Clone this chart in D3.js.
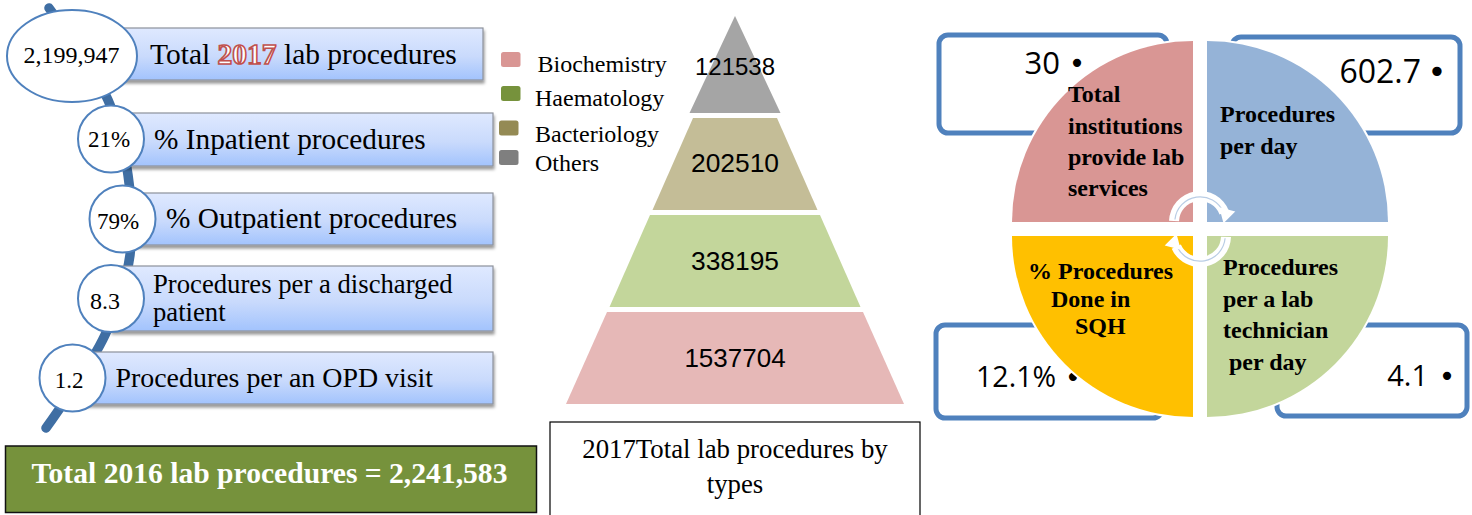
<!DOCTYPE html>
<html>
<head>
<meta charset="utf-8">
<script src="https://cdn.jsdelivr.net/npm/d3@7"></script>
<style>
body { margin: 0; background: #fff; }
svg { display: block; }
.serif { font-family: "Liberation Serif", serif; fill: #000; }
.sans { font-family: "Open Sans", sans-serif; fill: #000; }
</style>
</head>
<body>
<svg id="chart" width="1472" height="515"></svg>
<script>
// left list
var rowValues = ["2,199,947", "21%", "79%", "8.3", "1.2"];
var rowLabels = [
	["Total ", "2017", " lab procedures"],
	["% Inpatient procedures"],
	["% Outpatient procedures"],
	["Procedures per a discharged", "patient"],
	["Procedures per an OPD visit"]
];
var total2016 = "Total 2016 lab procedures = 2,241,583";

// pyramid, top to bottom
var pyramidTypes = ["Others", "Bacteriology", "Haematology", "Biochemistry"];
var pyramidValues = [121538, 202510, 338195, 1537704];
var legendTypes = ["Biochemistry", "Haematology", "Bacteriology", "Others"];
var pyramidTitle = ["2017Total lab procedures by", "types"];

// quarter circle, clockwise from top right
var pieValues = ["602.7", "4.1", "12.1%", "30"];
var pieLabels = [
	["Procedures", "per day"],
	["Procedures", "per a lab", "technician", " per day"],
	["% Procedures", "Done in", "SQH"],
	["Total", "institutions", "provide lab", "services"]
];

var svg = d3.select("#chart");
var defs = svg.append("defs");

var grad = defs.append("linearGradient").attr("id", "barFill").attr("x1", 0).attr("y1", 0).attr("x2", 0).attr("y2", 1);
grad.append("stop").attr("offset", "0%").attr("stop-color", "#dfe9ff");
grad.append("stop").attr("offset", "55%").attr("stop-color", "#c9dafc");
grad.append("stop").attr("offset", "100%").attr("stop-color", "#a2c3fd");

var shadow = defs.append("filter").attr("id", "barShadow").attr("x", "-5%").attr("y", "-20%").attr("width", "110%").attr("height", "150%");
shadow.append("feDropShadow").attr("dx", 1).attr("dy", 3).attr("stdDeviation", 1.5).attr("flood-color", "#000").attr("flood-opacity", 0.4);

drawList();
drawPyramid();
drawQuarters();

function drawList(){
	var g = svg.append("g");
	var idx = d3.range(rowValues.length);

	var barTop = d3.scaleOrdinal().domain(idx).range([28, 113, 193, 266, 352]);
	var barBottom = d3.scaleOrdinal().domain(idx).range([80, 166, 245, 331, 404]);
	var barRight = d3.scaleOrdinal().domain(idx).range([483, 493, 493, 493, 493]);
	var cx = d3.scaleOrdinal().domain(idx).range([72, 111, 122.5, 111, 72.5]);
	var cy = d3.scaleOrdinal().domain(idx).range([56, 139, 219, 298.5, 378]);
	var rx = d3.scaleOrdinal().domain(idx).range([65, 33, 33, 33, 33]);
	var ry = d3.scaleOrdinal().domain(idx).range([46, 33.5, 33.5, 33.5, 33.5]);
	var valueX = d3.scaleOrdinal().domain(idx).range([71.5, 109, 118, 105, 69]);
	var valueY = d3.scaleOrdinal().domain(idx).range([63, 147, 229, 309, 388]);
	var valueSize = d3.scaleOrdinal().domain(idx).range([24, 23, 23, 24, 23]);
	var labelX = d3.scaleOrdinal().domain(idx).range([150, 154, 166, 153, 115.5]);
	var labelY = d3.scaleOrdinal().domain(idx).range([64, 149, 228, 293, 387]);
	var labelSize = d3.scaleOrdinal().domain(idx).range([29.5, 29.3, 29.3, 26.7, 27.9]);

	// spine behind the circles
	var spine = d3.line().x(function(d){ return d[0]; }).y(function(d){ return d[1]; }).curve(d3.curveCatmullRom);
	g.append("path")
		.attr("d", spine([[49, 8], [108, 100], [128, 175], [130, 255], [105, 335], [46, 428]]))
		.attr("fill", "none").attr("stroke", "#3f6ea3").attr("stroke-width", 9.5).attr("stroke-linecap", "round");

	idx.forEach(function(i){
		g.append("rect")
			.attr("x", cx(i)).attr("y", barTop(i))
			.attr("width", barRight(i) - cx(i)).attr("height", barBottom(i) - barTop(i))
			.attr("fill", "url(#barFill)").attr("stroke", "#8d929c").attr("stroke-width", 1.2)
			.attr("filter", "url(#barShadow)");

		var text = g.append("text").attr("class", "serif").attr("x", labelX(i)).attr("y", labelY(i)).attr("font-size", labelSize(i));
		if(i == 0){
			text.append("tspan").attr("xml:space", "preserve").text(rowLabels[i][0]);
			text.append("tspan").attr("font-weight", "bold").attr("fill", "#fff").attr("stroke", "#c0504d").attr("stroke-width", 1.6).text(rowLabels[i][1]);
			text.append("tspan").text(rowLabels[i][2]);
		}else{
			rowLabels[i].forEach(function(line, k){
				text.append("tspan").attr("x", labelX(i)).attr("dy", k ? 28 : 0).text(line);
			});
		}
	});

	idx.forEach(function(i){
		g.append("ellipse")
			.attr("cx", cx(i)).attr("cy", cy(i)).attr("rx", rx(i)).attr("ry", ry(i))
			.attr("fill", "#fff").attr("stroke", "#4f81bd").attr("stroke-width", 2);
		g.append("text").attr("class", "serif")
			.attr("x", valueX(i)).attr("y", valueY(i))
			.attr("text-anchor", "middle").attr("font-size", valueSize(i))
			.text(rowValues[i]);
	});

	g.append("rect").attr("x", 5.5).attr("y", 446).attr("width", 531).attr("height", 66.5)
		.attr("fill", "#76923c").attr("stroke", "#111").attr("stroke-width", 1.5);
	g.append("text").attr("class", "serif").attr("x", 269.5).attr("y", 483)
		.attr("text-anchor", "middle").attr("font-size", 29.6).attr("font-weight", "bold")
		.style("fill", "#fff").text(total2016);
}

function drawPyramid(){
	var g = svg.append("g");
	var midX = 735;

	var top = d3.scaleOrdinal().domain(pyramidTypes).range([16, 118, 215, 312]);
	var bottom = d3.scaleOrdinal().domain(pyramidTypes).range([113, 210, 307, 404]);
	var topHalf = d3.scaleOrdinal().domain(pyramidTypes).range([0, 42, 85, 128]);
	var bottomHalf = d3.scaleOrdinal().domain(pyramidTypes).range([45.5, 82.5, 125.5, 169]);
	var fill = d3.scaleOrdinal().domain(pyramidTypes).range(["#a5a5a5", "#c4bd97", "#c3d69b", "#e6b8b7"]);
	var labelY = d3.scaleOrdinal().domain(pyramidTypes).range([75, 172, 270, 367]);
	var labelSize = d3.scaleOrdinal().domain(pyramidTypes).range([24, 26.4, 26.4, 26]);

	pyramidTypes.forEach(function(t, i){
		var poly = [
			[midX - topHalf(t), top(t)], [midX + topHalf(t), top(t)],
			[midX + bottomHalf(t), bottom(t)], [midX - bottomHalf(t), bottom(t)]
		];
		g.append("path").attr("d", d3.line()(poly) + "Z").attr("fill", fill(t));
		g.append("text").attr("class", "lab").attr("x", midX).attr("y", labelY(t))
			.attr("text-anchor", "middle").attr("font-size", labelSize(t))
			.attr("font-family", "Liberation Sans, sans-serif")
			.text(pyramidValues[i]);
	});

	// legend
	var swatchX = d3.scaleOrdinal().domain(legendTypes).range([501, 501, 499, 499]);
	var swatchY = d3.scaleOrdinal().domain(legendTypes).range([52, 86, 120.5, 150]);
	var textX = d3.scaleOrdinal().domain(legendTypes).range([537.5, 535, 535, 535]);
	var textY = d3.scaleOrdinal().domain(legendTypes).range([72, 106, 142, 171]);
	var swatchFill = d3.scaleOrdinal().domain(legendTypes).range(["#d99694", "#76923c", "#948a54", "#7f7f7f"]);

	legendTypes.forEach(function(t){
		g.append("rect").attr("x", swatchX(t)).attr("y", swatchY(t)).attr("width", 19.5).attr("height", 15).attr("rx", 2.5)
			.attr("fill", swatchFill(t));
		g.append("text").attr("class", "serif").attr("x", textX(t)).attr("y", textY(t)).attr("font-size", 24).text(t);
	});

	// title box
	g.append("rect").attr("x", 550).attr("y", 422).attr("width", 370).attr("height", 100)
		.attr("fill", "#fff").attr("stroke", "#000").attr("stroke-width", 1.2);
	pyramidTitle.forEach(function(line, i){
		g.append("text").attr("class", "serif").attr("x", 735).attr("y", 458 + i * 35)
			.attr("text-anchor", "middle").attr("font-size", 26.8).text(line);
	});
}

function drawQuarters(){
	var g = svg.append("g");
	var idx = d3.range(pieValues.length);
	var center = [1200, 229];

	// boxes behind the pie
	var boxX0 = d3.scaleOrdinal().domain(idx).range([1232, 1277, 936, 939]);
	var boxX1 = d3.scaleOrdinal().domain(idx).range([1460, 1467, 1162, 1167]);
	var boxY0 = d3.scaleOrdinal().domain(idx).range([37, 325, 325, 35]);
	var boxY1 = d3.scaleOrdinal().domain(idx).range([133, 416, 418, 133]);
	idx.forEach(function(i){
		g.append("rect")
			.attr("x", boxX0(i)).attr("y", boxY0(i))
			.attr("width", boxX1(i) - boxX0(i)).attr("height", boxY1(i) - boxY0(i))
			.attr("rx", 9).attr("fill", "#fff").attr("stroke", "#4f81bd").attr("stroke-width", 5);
	});

	// value + bullet
	var valueRight = d3.scaleOrdinal().domain(idx).range([1421, 1428, 1056, 1060]);
	var valueY = d3.scaleOrdinal().domain(idx).range([83, 386, 387, 74]);
	var valueSize = d3.scaleOrdinal().domain(idx).range([32, 29, 28.5, 31]);
	var bulletX = d3.scaleOrdinal().domain(idx).range([1437, 1447, 1073, 1077]);
	var bulletY = d3.scaleOrdinal().domain(idx).range([83, 386, 387, 73]);
	var bulletSize = d3.scaleOrdinal().domain(idx).range([32, 28, 28, 28]);
	idx.forEach(function(i){
		g.append("text").attr("class", "sans").attr("x", valueRight(i)).attr("y", valueY(i))
			.attr("text-anchor", "end").attr("font-size", valueSize(i)).text(pieValues[i]);
		g.append("text").attr("x", bulletX(i)).attr("y", bulletY(i))
			.attr("font-family", "DejaVu Sans, sans-serif")
			.attr("text-anchor", "middle").attr("font-size", bulletSize(i)).text("\u2022");
	});

	// four equal quarters, pushed apart
	var fill = d3.scaleOrdinal().domain(idx).range(["#95b3d7", "#c3d69b", "#ffc000", "#d99694"]);
	var arc = d3.arc().innerRadius(0).outerRadius(181);
	var slices = d3.pie().value(function(){ return 1; }).sort(null)(pieValues);
	slices.forEach(function(d, i){
		var c = arc.centroid(d);
		var dx = c[0] > 0 ? 7 : -7, dy = c[1] > 0 ? 7 : -7;
		g.append("path").attr("d", arc(d))
			.attr("transform", "translate(" + (center[0] + dx) + "," + (center[1] + dy) + ")")
			.attr("fill", fill(i)).attr("stroke", "#fff").attr("stroke-width", 4).attr("paint-order", "stroke");
	});

	// circular arrows in the middle
	var band = d3.arc().innerRadius(21).outerRadius(31);
	var thin = d3.arc().innerRadius(24.6).outerRadius(25.8);
	var arrows = [
		{c: [1200, 222], a0: -Math.PI / 2 + 0.04, a1: 1.2, tip: [1226, 214], rot: 195},
		{c: [1200, 236], a0: Math.PI / 2 + 0.03, a1: Math.PI * 1.5 - 0.42, tip: [1174, 243], rot: 15}
	];
	arrows.forEach(function(a){
		var ag = g.append("g").attr("transform", "translate(" + a.c[0] + "," + a.c[1] + ")");
		ag.append("path").attr("d", band({startAngle: a.a0, endAngle: a.a1})).attr("fill", "#fff");
		ag.append("path").attr("d", thin({startAngle: a.a0 + 0.06, endAngle: a.a1 - 0.02})).attr("fill", "#b9cde5");
		g.append("path").attr("d", d3.symbol().type(d3.symbolTriangle).size(120)())
			.attr("transform", "translate(" + a.tip[0] + "," + a.tip[1] + ") rotate(" + a.rot + ")")
			.attr("fill", "#fff");
	});

	// labels on the quarters
	var lineX = [
		[1220, 1220],
		[1223, 1223, 1223, 1229],
		[1028, 1051, 1075],
		[1068, 1068, 1068, 1068]
	];
	var lineY = [
		[122, 154],
		[275, 307, 338, 370],
		[279, 307, 334],
		[102, 134, 165, 196]
	];
	pieLabels.forEach(function(lines, i){
		lines.forEach(function(line, k){
			g.append("text").attr("class", "serif").attr("x", lineX[i][k]).attr("y", lineY[i][k])
				.attr("font-size", 24).attr("font-weight", "bold").text(line.trim());
		});
	});
}
</script>
</body>
</html>
